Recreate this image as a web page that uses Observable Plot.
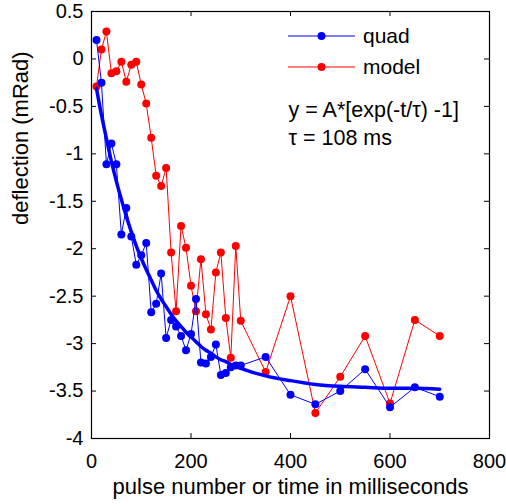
<!DOCTYPE html>
<html>
<head>
<meta charset="utf-8">
<script src="https://cdn.jsdelivr.net/npm/d3@7"></script>
<script src="https://cdn.jsdelivr.net/npm/@observablehq/plot@0.6"></script>
<style>
  html, body { margin: 0; padding: 0; background: #fff; }
  #chart svg { display: block; }
</style>
</head>
<body>
<div id="chart"></div>
<script>
// time / pulse number (ms)
const timeMs = [10, 20, 30, 40, 50, 60, 70, 80, 90, 100,
  110, 120, 130, 140, 150, 160, 170, 180, 190, 200,
  210, 220, 230, 240, 250, 260, 270, 280, 290, 300,
  350, 400, 450, 500, 550, 600, 650, 700];

// measured "quad" deflection (mRad)
const quadY = [0.20, -0.25, -1.11, -0.89, -1.11, -1.85, -1.57, -1.87, -2.17, -2.07,
  -1.94, -2.67, -2.58, -2.26, -2.94, -2.75, -2.82, -2.92, -3.07, -2.90,
  -2.53, -3.20, -3.21, -3.14, -3.01, -3.33, -3.31, -3.25, -3.23, -3.23,
  -3.14, -3.54, -3.64, -3.50, -3.27, -3.67, -3.46, -3.56];

// "model" deflection (mRad)
const modelY = [-0.29, 0.10, 0.29, -0.15, -0.13, -0.03, -0.24, -0.06, -0.03, -0.27,
  -0.47, -0.83, -1.23, -1.34, -1.15, -2.04, -2.66, -1.76, -1.99, -2.39,
  -2.66, -2.11, -2.69, -2.85, -2.25, -2.04, -2.73, -3.15, -1.97, -2.76,
  -3.30, -2.50, -3.73, -3.35, -2.92, -3.63, -2.75, -2.92];

// fitted curve y = A*[exp(-t/tau) - 1]
const fitY = [-0.31, -0.59, -0.84, -1.08, -1.29, -1.48, -1.66, -1.82, -1.97, -2.10,
  -2.22, -2.33, -2.44, -2.53, -2.61, -2.69, -2.76, -2.82, -2.88, -2.93,
  -2.98, -3.03, -3.07, -3.10, -3.14, -3.17, -3.19, -3.22, -3.24, -3.26,
  -3.34, -3.39, -3.43, -3.45, -3.46, -3.47, -3.47, -3.48];

const xTicks = [0, 200, 400, 600, 800];
const yTicks = [0.5, 0, -0.5, -1, -1.5, -2, -2.5, -3, -3.5, -4];
const seriesNames = ["quad", "model"];
const seriesColors = ["#0000ff", "#ff0000"];
const annotation = ["y = A*[exp(-t/\u03c4) -1]", "\u03c4 = 108 ms"];
const xTitle = "pulse number or time in milliseconds";
const yTitle = "deflection (mRad)";

const quad = timeMs.map((t, i) => ({t, v: quadY[i]}));
const model = timeMs.map((t, i) => ({t, v: modelY[i]}));
const fit = timeMs.map((t, i) => ({t, v: fitY[i]}));

const W = 506, H = 504;
const mL = 91, mR = 17, mT = 11, mB = 66;
const frameH = H - mT - mB;
const frameW = W - mL - mR;
const tick = 5;
const font = "'Liberation Sans', Arial, Helvetica, sans-serif";

const fmt = d => String(d);

const plot = Plot.plot({
  width: W,
  height: H,
  marginLeft: mL,
  marginRight: mR,
  marginTop: mT,
  marginBottom: mB,
  style: {fontFamily: font, fontSize: "20px", color: "#000", background: "#fff"},
  x: {domain: [0, 800], ticks: xTicks},
  y: {domain: [-4, 0.5], ticks: yTicks},
  marks: [
    Plot.axisX(xTicks, {tickSize: 0, tickPadding: 15, tickFormat: fmt, label: null, fontSize: 20}),
    Plot.axisY(yTicks, {tickSize: 0, tickPadding: 8, tickFormat: fmt, label: null, fontSize: 20}),
    // inward ticks on all four sides
    Plot.tickX(xTicks, {x: d => d, insetTop: frameH - tick, stroke: "#000"}),
    Plot.tickX(xTicks, {x: d => d, insetBottom: frameH - tick, stroke: "#000"}),
    Plot.tickY(yTicks, {y: d => d, insetRight: frameW - tick, stroke: "#000"}),
    Plot.tickY(yTicks, {y: d => d, insetLeft: frameW - tick, stroke: "#000"}),
    Plot.line(model, {x: "t", y: "v", stroke: seriesColors[1], strokeWidth: 1}),
    Plot.dot(model, {x: "t", y: "v", r: 4, fill: seriesColors[1], stroke: "none"}),
    Plot.line(quad, {x: "t", y: "v", stroke: seriesColors[0], strokeWidth: 1}),
    Plot.dot(quad, {x: "t", y: "v", r: 4, fill: seriesColors[0], stroke: "none"}),
    Plot.line(fit, {x: "t", y: "v", stroke: seriesColors[0], strokeWidth: 3.5, curve: "monotone-x"}),
    Plot.frame({stroke: "#000", strokeWidth: 1.2}),
    Plot.text([xTitle], {text: d => d, frameAnchor: "bottom", lineAnchor: "bottom", dy: 55, fontSize: 22}),
    Plot.text([yTitle], {text: d => d, frameAnchor: "left", lineAnchor: "bottom", rotate: -90, dx: -64, fontSize: 22}),
    Plot.text([annotation[0]], {text: d => d, frameAnchor: "top-left", textAnchor: "start", lineAnchor: "bottom", dx: 197, dy: 105, fontSize: 21.5}),
    Plot.text([annotation[1]], {text: d => d, frameAnchor: "top-left", textAnchor: "start", lineAnchor: "bottom", dx: 197, dy: 133, fontSize: 21.5})
  ]
});

// legend inside the axes (no box)
const svg = d3.select(plot);
const leg = svg.append("g").attr("font-family", font).attr("font-size", 21).attr("text-anchor", "start");
seriesNames.forEach((name, i) => {
  const y = 36 + i * 31;
  leg.append("line").attr("x1", 288).attr("x2", 355).attr("y1", y).attr("y2", y)
    .attr("stroke", seriesColors[i]).attr("stroke-width", 1);
  leg.append("circle").attr("cx", 321.5).attr("cy", y).attr("r", 4).attr("fill", seriesColors[i]);
  leg.append("text").attr("x", 363).attr("y", y).attr("dy", "0.35em")
    .attr("text-anchor", "start").text(name);
});

document.getElementById("chart").appendChild(plot);
</script>
</body>
</html>
